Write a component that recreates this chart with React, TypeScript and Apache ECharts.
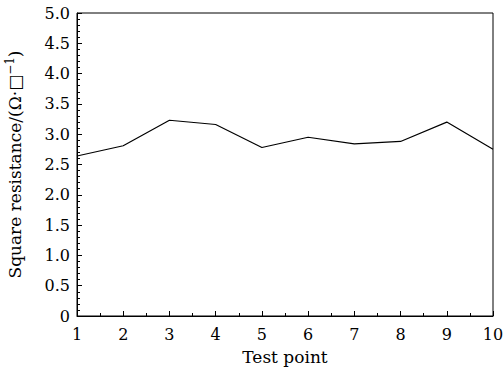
import React, { useEffect, useRef } from "react";
import * as echarts from "echarts";

const testPoints = [1, 2, 3, 4, 5, 6, 7, 8, 9, 10];
const squareResistance = [2.64, 2.81, 3.23, 3.16, 2.78, 2.95, 2.84, 2.88, 3.2, 2.75];
const xAxisTitle = "Test point";
const yAxisTitleMain = "Square resistance/(Ω·□";
const yAxisTitleSup = "−1";
const yAxisTitleEnd = ")";

const FONT = "DejaVu Serif";

export default function App() {
  const ref = useRef<HTMLDivElement>(null);
  useEffect(() => {
    if (!ref.current) return;
    const chart = echarts.init(ref.current, undefined, { renderer: "svg" });
    chart.setOption({
      animation: false,
      backgroundColor: "#fff",
      grid: {
        left: 77,
        right: 10,
        top: 13,
        bottom: 56,
        containLabel: false,
        outerBoundsMode: "none",
        show: true,
        borderColor: "#000",
        borderWidth: 1,
        backgroundColor: "transparent",
      },
      xAxis: {
        type: "value",
        min: 1,
        max: 10,
        interval: 1,
        name: xAxisTitle,
        nameLocation: "middle",
        nameGap: 32,
        nameTextStyle: { fontFamily: FONT, fontSize: 17, color: "#000" },
        axisLine: { show: true, lineStyle: { color: "#000", width: 1 } },
        axisTick: { show: true, inside: true, length: 5, lineStyle: { color: "#000" } },
        minorTick: { show: true, splitNumber: 2, length: 3, lineStyle: { color: "#000" } },
        splitLine: { show: false },
        axisLabel: { fontFamily: FONT, fontSize: 16, color: "#000", margin: 10 },
      },
      yAxis: {
        type: "value",
        min: 0,
        max: 5,
        interval: 0.5,
        name: `{a|${yAxisTitleMain}}{s|${yAxisTitleSup}}{a|${yAxisTitleEnd}}`,
        nameLocation: "middle",
        nameGap: 52,
        nameTextStyle: {
          fontFamily: FONT,
          fontSize: 17,
          color: "#000",
          rich: {
            a: { fontFamily: FONT, fontSize: 17, color: "#000", lineHeight: 21 },
            s: { fontFamily: FONT, fontSize: 12, color: "#000", verticalAlign: "top", lineHeight: 12 },
          },
        },
        axisLine: { show: true, lineStyle: { color: "#000", width: 1 } },
        axisTick: { show: true, inside: true, length: 5, lineStyle: { color: "#000" } },
        minorTick: { show: true, splitNumber: 5, length: 3, lineStyle: { color: "#000" } },
        splitLine: { show: false },
        axisLabel: {
          fontFamily: FONT,
          fontSize: 16,
          color: "#000",
          margin: 7,
          formatter: (v: number) => (v === 0 ? "0" : v.toFixed(1)),
        },
      },
      series: [
        {
          type: "line",
          data: testPoints.map((x, i) => [x, squareResistance[i]]),
          symbol: "none",
          lineStyle: { color: "#000", width: 1.2 },
        },
      ],
    });
    return () => chart.dispose();
  }, []);
  return <div ref={ref} style={{ width: 503, height: 372, position: "absolute", left: 0, top: 0 }} />;
}
